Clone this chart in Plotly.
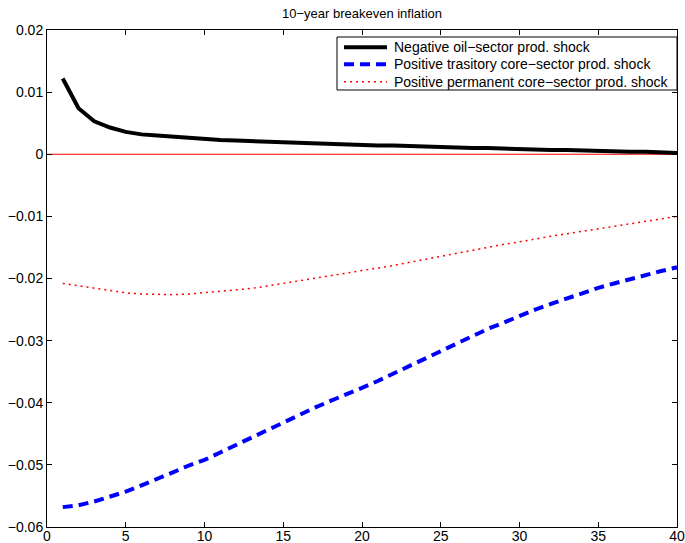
import plotly.graph_objects as go

periods = list(range(1, 41))

oil_neg = [0.0122, 0.0074, 0.0053, 0.0043, 0.0036, 0.0032, 0.0030, 0.0028, 0.0026, 0.0025,
           0.0023, 0.0022, 0.0021, 0.0020, 0.0019, 0.0018, 0.0017, 0.0016, 0.0016, 0.0015,
           0.0014, 0.0014, 0.0013, 0.0012, 0.0012, 0.0011, 0.0010, 0.0010, 0.0009, 0.0009,
           0.0008, 0.0007, 0.0007, 0.0006, 0.0005, 0.0005, 0.0004, 0.0004, 0.0003, 0.0002]

core_trans = [-0.0568, -0.0565, -0.0559, -0.0551, -0.0543, -0.0533, -0.0523, -0.0512, -0.0501, -0.0492,
              -0.0480, -0.0468, -0.0456, -0.0444, -0.0431, -0.0419, -0.0408, -0.0397, -0.0387, -0.0376,
              -0.0365, -0.0353, -0.0341, -0.0329, -0.0317, -0.0305, -0.0293, -0.0281, -0.0271, -0.0260,
              -0.0250, -0.0241, -0.0232, -0.0223, -0.0215, -0.0208, -0.0201, -0.0194, -0.0188, -0.0182]

core_perm = [-0.0208, -0.0212, -0.0216, -0.0220, -0.0223, -0.0225, -0.0226, -0.0226, -0.0225, -0.0223,
             -0.0221, -0.0219, -0.0216, -0.0212, -0.0208, -0.0204, -0.0200, -0.0196, -0.0192, -0.0188,
             -0.0184, -0.0179, -0.0174, -0.0169, -0.0165, -0.0160, -0.0155, -0.0150, -0.0145, -0.0141,
             -0.0136, -0.0132, -0.0128, -0.0124, -0.0120, -0.0116, -0.0112, -0.0108, -0.0104, -0.0100]

x_ticks = [0, 5, 10, 15, 20, 25, 30, 35, 40]
y_ticks = [0.02, 0.01, 0, -0.01, -0.02, -0.03, -0.04, -0.05, -0.06]
y_tick_text = ["0.02", "0.01", "0", "\u22120.01", "\u22120.02", "\u22120.03", "\u22120.04", "\u22120.05", "\u22120.06"]

names = ["Negative oil\u2212sector prod. shock",
         "Positive trasitory core\u2212sector prod. shock",
         "Positive permanent core\u2212sector prod. shock"]

FAM = "Liberation Sans, Arial, sans-serif"

styles = [
    dict(color="black", width=4),
    dict(color="#0000ff", width=4, dash="10px,6px"),
    dict(color="#ff0000", width=1.5, dash="2px,4px"),
]
series = [oil_neg, core_trans, core_perm]

fig = go.Figure()
fig.add_hline(y=0, line=dict(color="#ff0000", width=1), layer="below")
for nm, ys, st in zip(names, series, styles):
    fig.add_trace(go.Scatter(x=periods, y=ys, mode="lines", name=nm, line=st, showlegend=False))

# MATLAB-style legend box (paper coordinates)
fig.add_shape(type="rect", xref="paper", yref="paper", x0=0.4603, x1=1.0, y0=0.8793, y1=0.9859,
              line=dict(color="black", width=1), fillcolor="white", layer="above")
entry_y = [0.9652, 0.9310, 0.8960]
for nm, st, yy in zip(names, styles, entry_y):
    fig.add_shape(type="line", xref="paper", yref="paper", x0=0.4714, x1=0.5397, y0=yy, y1=yy,
                  line=st, layer="above")
    fig.add_annotation(text=nm, xref="paper", yref="paper", x=0.5476, y=yy,
                       xanchor="left", yanchor="middle", showarrow=False,
                       font=dict(family=FAM, size=14, color="black"))

fig.update_layout(
    width=685, height=543,
    margin=dict(l=47, r=8, t=30, b=16, autoexpand=False),
    paper_bgcolor="white", plot_bgcolor="white",
    font=dict(family=FAM, size=14, color="black"),
    title=dict(text="10\u2212year breakeven inflation", x=0.5, xref="paper", xanchor="center",
               y=0.976, yref="container", yanchor="middle",
               font=dict(family=FAM, size=13, color="black")),
    showlegend=False,
)
fig.update_xaxes(range=[0, 40], tickvals=x_ticks, ticktext=[str(v) for v in x_ticks],
                 ticks="inside", ticklen=5, tickcolor="black", showline=True, linecolor="black",
                 linewidth=1, mirror="ticks", showgrid=False, zeroline=False, automargin=False,
                 ticklabelstandoff=-4)
fig.update_yaxes(range=[-0.06, 0.02], tickvals=y_ticks, ticktext=y_tick_text,
                 ticks="inside", ticklen=5, tickcolor="black", showline=True, linecolor="black",
                 linewidth=1, mirror="ticks", showgrid=False, zeroline=False, automargin=False)

fig.write_html("out.html", config={"displayModeBar": False},
               post_script="document.body.style.margin='0';")
